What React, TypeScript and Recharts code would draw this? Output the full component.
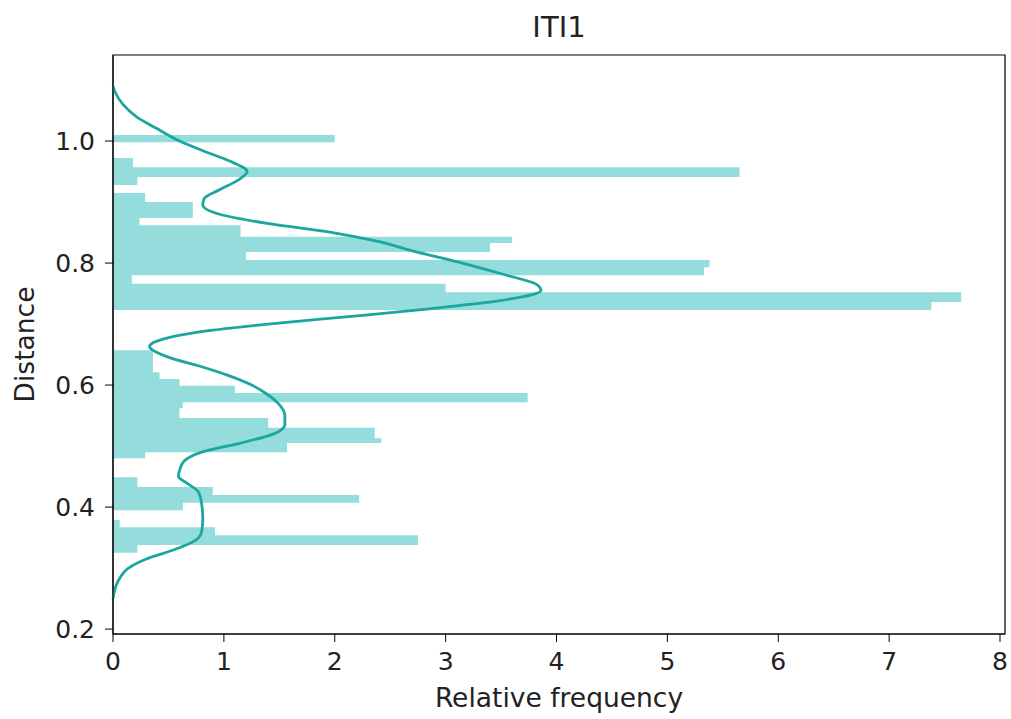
import React from 'react';
import { ComposedChart, Area, Line, XAxis, YAxis, ReferenceArea } from 'recharts';

// histogram bins: lower/upper edges along the distance axis, with bar lengths
const binEdges = [
  0.325, 0.338, 0.354, 0.367, 0.379, 0.395, 0.407, 0.42, 0.433, 0.449, 0.48,
  0.49, 0.505, 0.513, 0.53, 0.546, 0.562, 0.572, 0.587, 0.599, 0.61, 0.621,
  0.657, 0.723, 0.736, 0.752, 0.766, 0.78, 0.793, 0.805, 0.818, 0.833, 0.843,
  0.862, 0.874, 0.9, 0.915, 0.928, 0.941, 0.957, 0.972, 0.998, 1.01,
];
const binHeights = [
  0.22, 2.75, 0.92, 0.06, 0, 0.63, 2.22, 0.9, 0.22, 0,
  0.29, 1.57, 2.42, 2.36, 1.4, 0.6, 0.63, 3.74, 1.1, 0.6,
  0.42, 0.36, 0, 7.38, 7.65, 3.0, 0.17, 5.33, 5.38, 1.2,
  3.4, 3.6, 1.15, 0.24, 0.72, 0.29, 0, 0.22, 5.65, 0.18,
  0, 2.0,
];

// density curve
const kdeDistance = [
  0.25, 0.26, 0.28, 0.3, 0.315, 0.33, 0.345, 0.36, 0.38, 0.405, 0.425, 0.44,
  0.45, 0.46, 0.475, 0.49, 0.505, 0.52, 0.535, 0.55, 0.57, 0.585, 0.6, 0.615,
  0.63, 0.645, 0.655, 0.663, 0.67, 0.68, 0.69, 0.7, 0.715, 0.725, 0.735,
  0.745, 0.755, 0.765, 0.78, 0.8, 0.82, 0.835, 0.85, 0.865, 0.88, 0.895,
  0.905, 0.92, 0.935, 0.95, 0.965, 0.98, 1.0, 1.02, 1.04, 1.06, 1.08, 1.09,
];
const kdeDensity = [
  0, 0.01, 0.05, 0.14, 0.3, 0.55, 0.74, 0.8, 0.81, 0.8, 0.77, 0.66,
  0.59, 0.6, 0.64, 0.8, 1.15, 1.45, 1.55, 1.55, 1.49, 1.39, 1.25, 1.05,
  0.8, 0.51, 0.38, 0.33, 0.37, 0.55, 0.9, 1.4, 2.3, 2.85, 3.35,
  3.7, 3.86, 3.82, 3.55, 3.15, 2.7, 2.4, 1.98, 1.39, 0.96, 0.81,
  0.82, 0.96, 1.12, 1.21, 1.08, 0.87, 0.6, 0.4, 0.21, 0.09, 0.02, 0,
];

const xTicks = [0, 1, 2, 3, 4, 5, 6, 7, 8];
const yTicks = [0.2, 0.4, 0.6, 0.8, 1.0];

const histData = binEdges.map((d, i) => ({ d, v: i < binHeights.length ? binHeights[i] : 0 }));
const kdeData = kdeDistance.map((d, i) => ({ d, v: kdeDensity[i] }));

const X_MAX = 8.045;
const Y_MIN = 0.192;
const Y_MAX = 1.141;

const font = 'DejaVu Sans';
const tickStyle = { fill: '#222', fontSize: 25, fontFamily: font };

export default function App() {
  return (
    <div style={{ position: 'relative', width: 1011, height: 719, background: '#fff' }}>
      <style>{`body { margin: 0; }`}</style>
      <div
        style={{
          position: 'absolute',
          left: 113,
          width: 892,
          top: 10,
          textAlign: 'center',
          fontFamily: font,
          fontSize: 29,
          color: '#222',
        }}
      >
        ITI1
      </div>
      <ComposedChart
        width={1011}
        height={719}
        layout="vertical"
        margin={{ top: 55, right: 6, bottom: 0, left: 0 }}
      >
        <XAxis
          type="number"
          dataKey="v"
          domain={[0, X_MAX]}
          ticks={xTicks}
          height={85}
          tickSize={8}
          tickMargin={10}
          tick={tickStyle}
          axisLine={{ stroke: '#000' }}
          tickLine={{ stroke: '#000' }}
          label={{
            value: 'Relative frequency',
            position: 'insideBottom',
            offset: 12,
            style: { fill: '#222', fontSize: 26.5, fontFamily: font },
          }}
        />
        <YAxis
          type="number"
          dataKey="d"
          reversed
          domain={[Y_MIN, Y_MAX]}
          ticks={yTicks}
          tickFormatter={(t: number) => t.toFixed(1)}
          width={113}
          tickSize={8}
          tickMargin={10}
          tick={tickStyle}
          axisLine={{ stroke: '#000' }}
          tickLine={{ stroke: '#000' }}
          label={{
            value: 'Distance',
            angle: -90,
            position: 'insideLeft',
            offset: 25,
            style: { fill: '#222', fontSize: 26.5, fontFamily: font, textAnchor: 'middle' },
          }}
        />
        <Area
          data={histData}
          dataKey="v"
          type="stepBefore"
          fill="#95dcdc"
          fillOpacity={1}
          stroke="none"
          isAnimationActive={false}
        />
        <Line
          data={kdeData}
          dataKey="v"
          type="monotone"
          stroke="#1ba69f"
          strokeWidth={2.8}
          dot={false}
          isAnimationActive={false}
        />
        <ReferenceArea x1={0} x2={X_MAX} y1={Y_MIN} y2={Y_MAX} fill="none" stroke="#000" strokeWidth={1.2} />
      </ComposedChart>
    </div>
  );
}
